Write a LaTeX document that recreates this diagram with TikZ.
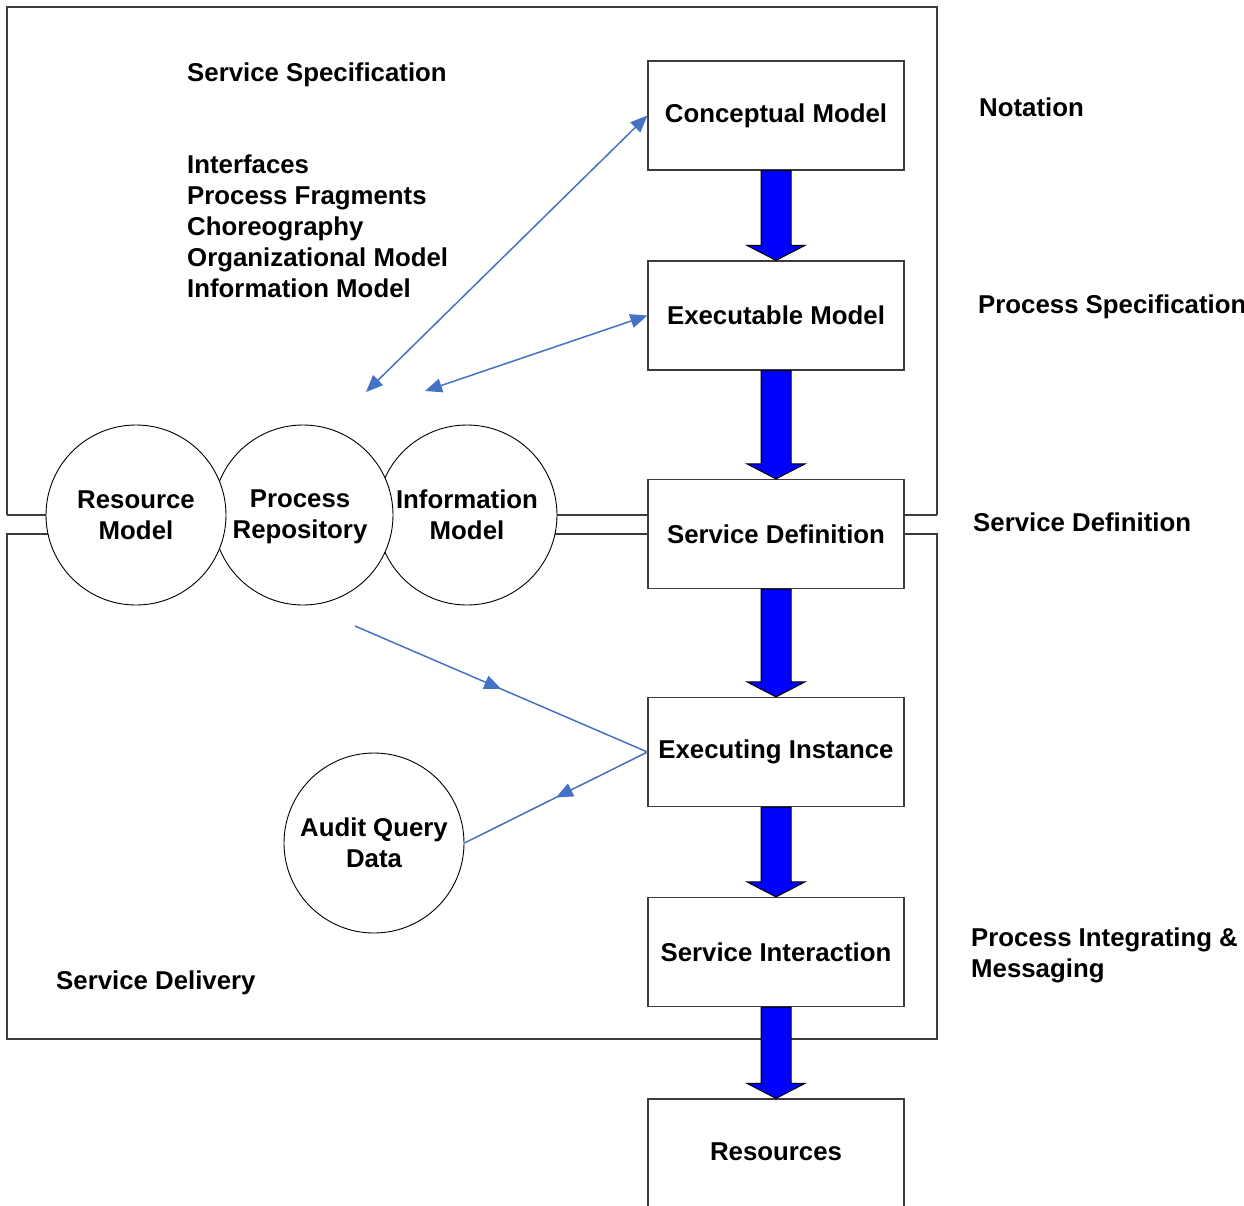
\documentclass[tikz,border=0pt]{standalone}
\usepackage{fontspec}
\setmainfont{Liberation Sans}
\usetikzlibrary{calc,arrows.meta,decorations.markings}
\definecolor{linkblue}{RGB}{68,114,196}
\definecolor{frameline}{RGB}{60,60,60}
\begin{document}
\begin{tikzpicture}[x=1pt,y=-1pt,
  every node/.style={font=\fontsize{25.8}{30.5}\selectfont\bfseries},
  stage/.style={draw=frameline, line width=1.2pt, fill=white, rectangle,
    minimum width=256, minimum height=109, inner sep=0pt},
  store/.style={draw=black, line width=0.9pt, fill=white, circle,
    minimum size=180, inner sep=0pt, align=center},
  label/.style={anchor=base west, inner sep=0pt},
  link/.style={draw=linkblue, line width=1.5pt},
  bothtips/.style={{Triangle[length=17pt,width=14pt]}-{Triangle[length=17pt,width=14pt]}},
  midtip/.style={postaction={decorate},
    decoration={markings, mark=at position 0.5 with {\arrow{Triangle[length=17pt,width=14pt,fill=linkblue]}}}},
  blockarrow/.style={fill=blue, draw=black, line width=1pt, line join=miter}
]
\useasboundingbox (0,0) rectangle (1244,1205);

% the two areas: specification (top) and delivery (bottom)
\draw[frameline, line width=1.2pt] (7,515) -- (7,7) -- (937,7) -- (937,515);
\draw[frameline, line width=1.2pt] (7,515) -- (937,515);
\draw[frameline, line width=1.2pt] (7,534) rectangle (937,1039);

% stages of the life cycle
\node[stage] (cm)  at (776,115.5) {Conceptual Model};
\node[stage] (em)  at (776,315.5) {Executable Model};
\node[stage] (sd)  at (776,534) {Service Definition};
\node[stage] (ei)  at (776,752) {Executing Instance};
\node[stage] (si)  at (776,952) {Service Interaction};
\node[stage, minimum height=140] (res) at (776,1169) {};
\node (restext) at (776,1152) {Resources};

% repositories (drawn back to front)
\node[store] (im) at (467,515) {Information\\Model};
\node[store] (pr) at (303,515) {};
\node (prtext) at (300,517) [align=center] {Process\\Repository};
\node[store] (rm) at (136,515) {Resource\\Model};
\node[store] (aq) at (374,843) {Audit Query\\Data};

% block arrows between stages
\foreach \a/\b in {cm/em, em/sd, sd/ei, ei/si, si/res}{
  \draw[blockarrow] ($(\a.south)+(-15,0)$) -- ($(\b.north)+(-15,-15)$)
    -- ($(\b.north)+(-29,-15)$) -- (\b.north) -- ($(\b.north)+(29,-15)$)
    -- ($(\b.north)+(15,-15)$) -- ($(\a.south)+(15,0)$) -- cycle;
}

% links between the stages and the repositories
\coordinate (p1) at (366,392);
\coordinate (p2) at (425,391);
\coordinate (p3) at (355,626);
\draw[link, bothtips] (p1) -- (cm.west);
\draw[link, bothtips] (p2) -- (em.west);
\draw[link, midtip] (p3) -- (ei.west);
\draw[link, midtip] (ei.west) -- (aq.east);

% texts of the specification area
\node[label] (ss) at (187,81) {Service Specification};
\node[label] (l1) at (187,173) {Interfaces};
\node[label] (l2) at (187,204) {Process Fragments};
\node[label] (l3) at (187,235) {Choreography};
\node[label] (l4) at (187,266) {Organizational Model};
\node[label] (l5) at (187,297) {Information Model};
\node[label] (sdl) at (56,989) {Service Delivery};

% levels on the right
\node[label] (r1) at (979,116) {Notation};
\node[label] (r2) at (978,313) {Process Specification};
\node[label] (r3) at (973,531) {Service Definition};
\node[label] (r4) at (971,946) {Process Integrating \&};
\node[label] (r5) at (971,977) {Messaging};
\end{tikzpicture}
\end{document}
